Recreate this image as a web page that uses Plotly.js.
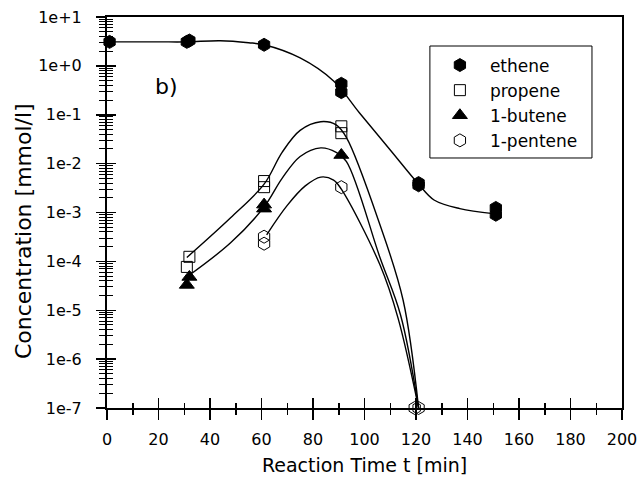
<!DOCTYPE html>
<html>
<head>
<meta charset="utf-8">
<script src="https://cdn.plot.ly/plotly-3.0.1.min.js"></script>
<style>
  html, body { margin: 0; padding: 0; background: #fff; }
  #chart { width: 637px; height: 487px; }
</style>
</head>
<body>
<div id="chart"></div>
<script>
// ---- tick labels ----
const xTickVals = [0, 20, 40, 60, 80, 100, 120, 140, 160, 180, 200];
const xMinorVals = [10, 30, 50, 70, 90, 110, 130, 150, 170, 190];
const yTickVals = [1e-7, 1e-6, 1e-5, 1e-4, 1e-3, 1e-2, 1e-1, 1e0, 1e1];
const yTickText = ['1e-7', '1e-6', '1e-5', '1e-4', '1e-3', '1e-2', '1e-1', '1e+0', '1e+1'];

// ---- measured points (reaction time t [min], concentration [mmol/l]) ----
const etheneT  = [1, 31, 32, 61, 91, 91, 121, 121, 151, 151];
const etheneC  = [3.1, 3.1, 3.3, 2.7, 0.43, 0.29, 0.0040, 0.0036, 0.00124, 0.00090];
const propeneT = [31, 32, 61, 61, 91, 91];
const propeneC = [7.7e-5, 1.24e-4, 3.3e-3, 4.4e-3, 0.042, 0.058];
const buteneT  = [31, 32, 61, 61, 91];
const buteneC  = [3.3e-5, 4.8e-5, 1.2e-3, 1.45e-3, 0.015];
const penteneT = [61, 61, 91, 119.5, 121];
const penteneC = [3.2e-4, 2.3e-4, 3.3e-3, 1e-7, 1e-7];

// ---- fitted curves ----
const etheneFitT  = [1, 20, 31, 44, 55, 61, 75, 88, 98, 110, 121, 127, 137, 150];
const etheneFitC  = [3.1, 3.1, 3.1, 3.27, 2.98, 2.7, 1.45, 0.49, 0.11, 0.019, 0.0038, 0.0018, 0.0012, 0.00095];
const propeneFitT = [31, 48, 61, 68, 75, 83, 89, 93, 106, 115, 121];
const propeneFitC = [1.2e-4, 7.8e-4, 3.8e-3, 0.017, 0.048, 0.072, 0.062, 0.034, 5.6e-4, 1.6e-5, 1e-7];
const buteneFitT  = [31, 48, 61, 68, 75, 83, 89, 93, 106, 114, 121];
const buteneFitC  = [4.8e-5, 2.4e-4, 1.3e-3, 5e-3, 0.014, 0.021, 0.017, 0.011, 1.2e-4, 8e-6, 1e-7];
const penteneFitT = [62, 70, 77, 83, 88, 91, 106, 113, 121];
const penteneFitC = [3.5e-4, 1.4e-3, 3.5e-3, 5.3e-3, 4.6e-3, 3.0e-3, 8.5e-5, 7e-6, 1e-7];

const names = ['ethene', 'propene', '1-butene', '1-pentene'];

// minor log ticks (2..9 in each decade)
const yMinorVals = [];
for (let e = -7; e < 1; e++) for (let m = 2; m <= 9; m++) yMinorVals.push(m * Math.pow(10, e));

const FONT = 'DejaVu Sans, Verdana, sans-serif';

function fit(t, c) {
  return { x: t, y: c, xaxis: 'x', yaxis: 'y', mode: 'lines', showlegend: false, hoverinfo: 'skip',
           line: { color: '#000', width: 1.4, shape: 'spline', smoothing: 1 } };
}
function pts(t, c, name, symbol, size) {
  return { x: t, y: c, xaxis: 'x2', yaxis: 'y2', mode: 'markers', name: name, cliponaxis: false,
           marker: { symbol: symbol, size: size, color: '#000', line: { color: '#000', width: 1 } } };
}

const data = [
  fit(etheneFitT, etheneFitC),
  fit(propeneFitT, propeneFitC),
  fit(buteneFitT, buteneFitC),
  fit(penteneFitT, penteneFitC),
  pts(etheneT, etheneC, names[0], 'hexagon', 13),
  pts(propeneT, propeneC, names[1], 'square-open', 11),
  pts(buteneT, buteneC, names[2], 'triangle-up', 13),
  pts(penteneT, penteneC, names[3], 'hexagon-open', 13)
];

const xBase = { range: [0, 200], fixedrange: true, zeroline: false, showgrid: false,
                tickmode: 'array', tickvals: xTickVals, ticklen: 10, tickwidth: 1.5, tickcolor: '#000',
                minor: { tickmode: 'array', tickvals: xMinorVals, ticklen: 5, tickwidth: 1.5, tickcolor: '#000' } };
const yBase = { type: 'log', range: [-7, 1], fixedrange: true, zeroline: false, showgrid: false,
                tickmode: 'array', tickvals: yTickVals, ticktext: yTickText, ticklen: 9, tickwidth: 1.5, tickcolor: '#000',
                minor: { tickmode: 'array', tickvals: yMinorVals, ticklen: 6, tickwidth: 1, tickcolor: '#000' } };

const layout = {
  width: 637, height: 487,
  margin: { l: 107, r: 15, t: 17, b: 79 },
  paper_bgcolor: '#fff', plot_bgcolor: '#fff',
  font: { family: FONT, color: '#000', size: 16 },
  showlegend: true,
  legend: { x: 0.627, y: 0.922, xanchor: 'left', yanchor: 'top', bgcolor: 'rgba(0,0,0,0)',
            borderwidth: 0, itemwidth: 50, font: { family: FONT, size: 17, color: '#000' },
            traceorder: 'normal' },
  shapes: [
    { type: 'rect', xref: 'paper', yref: 'paper', x0: 0.627, x1: 0.9417, y0: 0.6394, y1: 0.9258,
      line: { color: '#000', width: 1 }, fillcolor: '#fff', layer: 'below' }
  ],
  xaxis: Object.assign({}, xBase, {
    ticks: 'outside', showline: true, linecolor: '#000', linewidth: 2, mirror: true,
    minor: Object.assign({}, xBase.minor, { ticks: 'outside' }),
    tickfont: { family: FONT, size: 16 }, ticklabelstandoff: 6, ticklabeloverflow: 'allow',
    title: { text: 'Reaction Time t [min]', font: { family: FONT, size: 19 }, standoff: 10 }
  }),
  yaxis: Object.assign({}, yBase, {
    ticks: 'outside', showline: true, linecolor: '#000', linewidth: 2, mirror: true,
    minor: Object.assign({}, yBase.minor, { ticks: 'outside' }),
    tickfont: { family: FONT, size: 16 }, ticklabelstandoff: 11, ticklabeloverflow: 'allow'
  }),
  xaxis2: Object.assign({}, xBase, {
    overlaying: 'x', anchor: 'y', side: 'bottom', ticks: 'inside', showline: false, showticklabels: false,
    minor: Object.assign({}, xBase.minor, { ticks: 'inside' })
  }),
  yaxis2: Object.assign({}, yBase, {
    overlaying: 'y', anchor: 'x', side: 'left', ticks: 'inside', showline: false, showticklabels: false,
    minor: Object.assign({}, yBase.minor, { ticks: 'inside' })
  }),
  annotations: [
    { text: 'b)', xref: 'paper', yref: 'paper', x: 0.115, y: 0.8235, xanchor: 'center', yanchor: 'middle',
      showarrow: false, font: { family: FONT, size: 22, color: '#000' } },
    { text: 'Concentration [mmol/l]', xref: 'paper', yref: 'paper', x: -0.161, y: 0.4527, textangle: -90,
      xanchor: 'center', yanchor: 'middle', showarrow: false, font: { family: FONT, size: 22, color: '#000' } }
  ]
};

Plotly.newPlot('chart', data, layout, { staticPlot: true, displayModeBar: false });
</script>
</body>
</html>
